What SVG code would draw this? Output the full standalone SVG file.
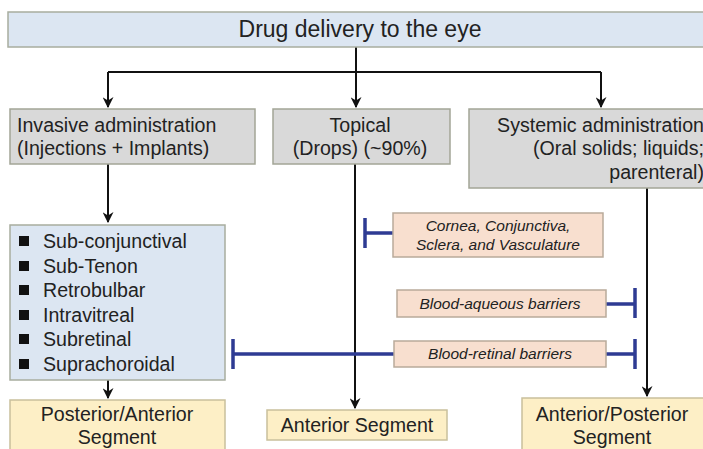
<svg xmlns="http://www.w3.org/2000/svg" width="703" height="449" viewBox="0 0 703 449">
  <defs>
    <marker id="arrow" viewBox="0 0 10 10" refX="9" refY="5" markerWidth="5.5" markerHeight="5.5" orient="auto" markerUnits="strokeWidth">
      <path d="M0,0 L10,5 L0,10 L3,5 Z" fill="#111"/>
    </marker>
    <style>
      text { font-family: "Liberation Sans", Arial, sans-serif; fill: #222; }
      .title { font-size: 23px; }
      .lbl { font-size: 19.6px; }
      .it { font-size: 15.5px; font-style: italic; }
      .blue-box { fill: #dce6f2; stroke: #a8ad9f; stroke-width: 1.5; }
      .grey-box { fill: #d9d9d9; stroke: #a3a596; stroke-width: 1.5; }
      .yel-box { fill: #fdefc6; stroke: #c9c09c; stroke-width: 1.5; }
      .peach-box { fill: #f8dfcf; stroke: #b9aa9a; stroke-width: 1.5; }
      .conn { fill: none; stroke: #111; stroke-width: 2; }
      .block { fill: none; stroke: #2e3b93; stroke-width: 3.5; }
    </style>
  </defs>

  <rect width="703" height="449" fill="#ffffff"/>

  <!-- connectors -->
  <g id="connectors">
    <path class="conn" d="M356,47 V72"/>
    <path class="conn" d="M108,72 H601"/>
    <path class="conn" d="M108,72 V107" marker-end="url(#arrow)"/>
    <path class="conn" d="M356,72 V107" marker-end="url(#arrow)"/>
    <path class="conn" d="M601,72 V107" marker-end="url(#arrow)"/>
    <path class="conn" d="M108,164 V222" marker-end="url(#arrow)"/>
    <path class="conn" d="M108,380 V398" marker-end="url(#arrow)"/>
    <path class="conn" d="M355,164 V408" marker-end="url(#arrow)"/>
    <path class="conn" d="M647,188 V396" marker-end="url(#arrow)"/>
    <!-- inhibition bars -->
    <path class="block" d="M393,233 H365 M365,218 V248"/>
    <path class="block" d="M606,304 H635 M635,288 V318"/>
    <path class="block" d="M394,354 H233 M233,339 V369"/>
    <path class="block" d="M606,354 H635 M635,339 V369"/>
  </g>

  <g id="root">
    <rect class="blue-box" x="8" y="12" width="705" height="35"/>
    <text class="title" x="360" y="37" text-anchor="middle">Drug delivery  to the eye</text>
  </g>

  <g id="invasive">
    <rect class="grey-box" x="10" y="109" width="245" height="55"/>
    <text class="lbl" x="17" y="132">Invasive administration</text>
    <text class="lbl" x="17" y="155">(Injections + Implants)</text>
  </g>

  <g id="topical">
    <rect class="grey-box" x="273" y="109" width="177" height="55"/>
    <text class="lbl" x="360" y="132" text-anchor="middle">Topical</text>
    <text class="lbl" x="360" y="155" text-anchor="middle">(Drops) (~90%)</text>
  </g>

  <g id="systemic">
    <rect class="grey-box" x="469" y="109" width="240" height="79"/>
    <text class="lbl" x="704" y="132" text-anchor="end">Systemic administration</text>
    <text class="lbl" x="704" y="155" text-anchor="end">(Oral solids; liquids;</text>
    <text class="lbl" x="704" y="179" text-anchor="end">parenteral)</text>
  </g>

  <g id="routes">
    <rect class="blue-box" x="10" y="225" width="215" height="155"/>
    <g fill="#111">
      <rect x="19" y="236" width="10" height="10"/>
      <rect x="19" y="261" width="10" height="10"/>
      <rect x="19" y="285" width="10" height="10"/>
      <rect x="19" y="310" width="10" height="10"/>
      <rect x="19" y="334" width="10" height="10"/>
      <rect x="19" y="359" width="10" height="10"/>
    </g>
    <text class="lbl" x="43" y="248">Sub-conjunctival</text>
    <text class="lbl" x="43" y="273">Sub-Tenon</text>
    <text class="lbl" x="43" y="297">Retrobulbar</text>
    <text class="lbl" x="43" y="322">Intravitreal</text>
    <text class="lbl" x="43" y="346">Subretinal</text>
    <text class="lbl" x="43" y="371">Suprachoroidal</text>
  </g>

  <g id="cornea">
    <rect class="peach-box" x="393" y="213" width="210" height="44"/>
    <text class="it" x="498" y="231" text-anchor="middle">Cornea, Conjunctiva,</text>
    <text class="it" x="498" y="250" text-anchor="middle">Sclera, and Vasculature</text>
  </g>

  <g id="blood-aqueous">
    <rect class="peach-box" x="397" y="290" width="209" height="27"/>
    <text class="it" x="500" y="309" text-anchor="middle">Blood-aqueous barriers</text>
  </g>

  <g id="blood-retinal">
    <rect class="peach-box" x="394" y="341" width="212" height="26"/>
    <text class="it" x="500" y="359" text-anchor="middle">Blood-retinal barriers</text>
  </g>

  <g id="post-ant">
    <rect class="yel-box" x="10" y="400" width="215" height="55"/>
    <text class="lbl" x="117" y="421" text-anchor="middle">Posterior/Anterior</text>
    <text class="lbl" x="117" y="444" text-anchor="middle">Segment</text>
  </g>

  <g id="anterior">
    <rect class="yel-box" x="267" y="410" width="180" height="30"/>
    <text class="lbl" x="357" y="432" text-anchor="middle">Anterior Segment</text>
  </g>

  <g id="ant-post">
    <rect class="yel-box" x="522" y="398" width="190" height="57"/>
    <text class="lbl" x="612" y="421" text-anchor="middle">Anterior/Posterior</text>
    <text class="lbl" x="612" y="444" text-anchor="middle">Segment</text>
  </g>
</svg>
